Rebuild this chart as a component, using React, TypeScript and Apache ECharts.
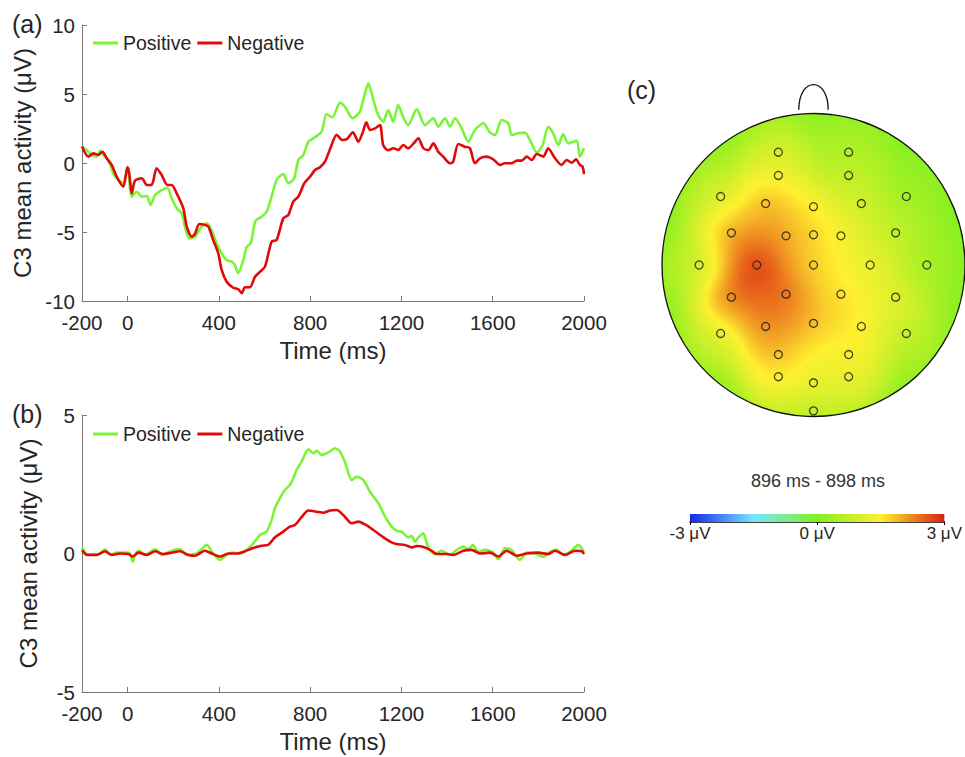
import React, { useEffect, useRef } from "react";
import * as echarts from "echarts";

const FONT = "'Liberation Sans', Arial, Helvetica, sans-serif";
const TEXT = "#262626";

const seriesNames = ["Positive", "Negative"];
const lineColors = ["#7af535", "#e00a0a"];
const timeTicks = [-200, 0, 400, 800, 1200, 1600, 2000];

// Panel (a)
const aPosT = [-200, -180, -158, -136, -121, -107, -85, -63, -41, -19, 0, 18, 40, 62, 84, 101, 120, 149, 174, 193, 215, 237, 251, 270, 295, 324, 346, 368, 390, 412, 434, 456, 470, 484, 507, 522, 540, 560, 587, 609, 631, 653, 682, 704, 730, 748, 770, 792, 821, 850, 872, 897, 931, 952, 986, 1018, 1036, 1055, 1077, 1098, 1120, 1142, 1164, 1186, 1208, 1230, 1267, 1303, 1340, 1361, 1391, 1413, 1435, 1464, 1493, 1522, 1559, 1588, 1610, 1639, 1668, 1683, 1712, 1741, 1763, 1793, 1819, 1843, 1865, 1887, 1909, 1931, 1968, 1982, 2000];
const aPosV = [1.18, 0.94, 0.58, 0.46, 0.9, 0.58, 0.22, -0.75, -1.23, -1.47, -0.3, -2.44, -2.08, -2.44, -2.39, -3.04, -2.32, -1.96, -1.79, -2.56, -3.28, -3.65, -4.61, -5.46, -5.34, -4.61, -4.37, -4.86, -5.82, -6.54, -7.03, -7.15, -7.39, -7.97, -7.03, -6.07, -5.8, -4.2, -3.89, -3.53, -2.44, -1.23, -0.8, -1.47, -1.11, 0.22, 0.58, 1.54, 1.86, 2.27, 3.55, 3.31, 4.37, 4.08, 3.24, 3.72, 4.8, 5.78, 4.57, 3.48, 2.99, 3.84, 2.99, 4.2, 3.3, 2.75, 3.89, 2.75, 3.24, 2.63, 3.24, 2.63, 3.24, 2.51, 1.54, 2.39, 2.88, 2.2, 2.03, 3.12, 2.88, 2.03, 2.15, 2.2, 1.67, 0.75, 1.3, 2.63, 2.15, 1.3, 2.1, 1.43, 1.62, 0.46, 1.07];
const aNegT = [-200, -172, -150, -129, -110, -92, -70, -48, -19, -1, 7, 18, 32, 62, 84, 105, 127, 149, 174, 193, 215, 244, 259, 281, 295, 314, 339, 354, 375, 397, 412, 434, 463, 485, 500, 514, 536, 558, 580, 602, 631, 653, 682, 704, 726, 748, 774, 799, 821, 843, 865, 891, 916, 940, 962, 987, 1011, 1030, 1046, 1062, 1084, 1106, 1120, 1142, 1164, 1186, 1208, 1230, 1255, 1274, 1296, 1318, 1340, 1361, 1383, 1413, 1427, 1449, 1478, 1500, 1522, 1544, 1573, 1602, 1632, 1654, 1683, 1705, 1727, 1749, 1771, 1793, 1822, 1843, 1873, 1902, 1924, 1946, 1965, 1982, 1994, 2000];
const aNegV = [1.2, 0.46, 0.7, 0.58, 0.82, 0.34, -0.14, -0.99, -1.72, -0.31, -0.75, -2.2, -1.28, -1.11, -1.59, -1.59, -0.38, -0.87, -1.59, -1.59, -2.2, -3.28, -4.61, -5.34, -5.14, -4.42, -4.49, -4.61, -5.58, -6.54, -7.75, -8.6, -9.04, -9.15, -9.44, -9.0, -9.0, -8.24, -7.88, -7.51, -5.7, -5.58, -4.01, -3.77, -2.8, -2.44, -1.47, -1.0, -0.51, -0.3, 0.1, 1.18, 2.05, 1.67, 1.75, 2.23, 1.54, 2.2, 2.95, 2.39, 2.51, 2.75, 1.3, 0.92, 1.07, 0.94, 1.3, 1.07, 1.45, 1.79, 1.07, 0.94, 1.43, 0.82, 0.46, -0.02, 0.1, 1.38, 1.18, 1.07, -0.02, 0.34, 0.46, 0.27, -0.14, -0.02, -0.02, 0.17, 0.17, 0.46, 0.22, 0.65, 0.46, 1.07, 0.34, -0.14, 0.22, 0.02, 0.27, -0.14, -0.27, -0.8];

// Panel (b)
const bPosT = [-200, -180, -150, -121, -99, -77, -48, -12, 10, 22, 32, 51, 76, 120, 149, 193, 229, 259, 295, 324, 346, 375, 405, 434, 463, 492, 522, 551, 580, 609, 631, 645, 667, 689, 711, 726, 740, 762, 792, 814, 829, 850, 879, 909, 931, 952, 982, 1004, 1033, 1062, 1099, 1128, 1157, 1179, 1201, 1230, 1245, 1259, 1274, 1296, 1311, 1325, 1347, 1376, 1413, 1442, 1471, 1493, 1512, 1537, 1566, 1602, 1624, 1654, 1683, 1719, 1749, 1785, 1822, 1851, 1880, 1909, 1939, 1975, 2000];
const bPosV = [0.22, -0.02, -0.05, 0, 0.15, -0.05, 0.03, 0.03, 0, -0.3, -0.05, 0.1, -0.05, 0.15, -0.05, 0.1, 0.15, -0.05, -0.02, 0.15, 0.31, 0, -0.23, -0.05, 0.03, 0, 0.13, 0.37, 0.67, 0.79, 1.21, 1.63, 1.99, 2.29, 2.47, 2.71, 3.01, 3.31, 3.76, 3.62, 3.71, 3.56, 3.64, 3.8, 3.67, 3.31, 2.65, 2.77, 2.65, 2.23, 1.81, 1.33, 0.97, 0.82, 0.79, 0.58, 0.63, 0.43, 0.58, 0.73, 0.37, 0.13, -0.02, 0.1, -0.05, 0.13, 0.25, 0.15, 0.31, 0.06, 0.13, 0.03, -0.21, 0.19, 0.13, -0.23, 0.03, 0, -0.12, 0.06, 0.13, -0.05, 0.06, 0.31, 0.06];
const bNegT = [-200, -177, -136, -99, -70, -34, 3, 22, 47, 84, 120, 156, 193, 229, 266, 295, 339, 368, 405, 441, 478, 514, 551, 587, 616, 645, 682, 711, 733, 762, 792, 829, 858, 887, 916, 945, 982, 1011, 1040, 1077, 1113, 1150, 1179, 1215, 1245, 1267, 1303, 1332, 1354, 1398, 1427, 1471, 1507, 1544, 1588, 1624, 1661, 1705, 1749, 1800, 1843, 1873, 1917, 1961, 1990, 2000];
const bNegV = [0.13, -0.05, -0.05, 0.08, -0.05, 0, -0.02, -0.11, 0.03, -0.05, 0.08, -0.02, 0.03, 0.08, -0.05, -0.08, 0.1, 0, -0.11, 0, 0, 0.08, 0.2, 0.28, 0.31, 0.58, 0.79, 0.97, 1.03, 1.31, 1.55, 1.51, 1.47, 1.55, 1.57, 1.39, 1.09, 1.15, 1.05, 0.85, 0.63, 0.43, 0.34, 0.31, 0.22, 0.27, 0.22, 0.1, -0.02, -0.02, -0.05, 0.1, 0.13, 0, 0.03, -0.11, 0.1, -0.08, 0, 0.03, -0.02, 0.1, -0.05, 0.1, 0.08, -0.02];

// Panel (c): electrode layout (unit head radius) and amplitudes (µV) at 896-898 ms
const elecX = [-0.232, 0.232, -0.232, 0.232, -0.613, 0.613, -0.316, 0, 0.316, -0.542, -0.181, 0, 0.181, 0.542, -0.755, -0.374, 0, 0.374, 0.748, -0.542, -0.181, 0.181, 0.542, -0.613, -0.316, 0, 0.316, 0.613, -0.232, 0.232, -0.232, 0, 0.232, 0];
const elecY = [0.723, 0.723, 0.574, 0.574, 0.439, 0.439, 0.394, 0.374, 0.394, 0.206, 0.187, 0.194, 0.187, 0.206, 0, 0, 0, 0, 0, -0.206, -0.187, -0.187, -0.206, -0.439, -0.394, -0.374, -0.394, -0.439, -0.574, -0.574, -0.716, -0.755, -0.716, -0.935];
const elecVal = [1.0, 0.6, 1.7, 0.9, 1.1, 0.4, 2.5, 1.7, 1.2, 2.7, 2.6, 1.9, 1.6, 1.0, 1.0, 3.7, 2.0, 1.6, 0.5, 3.2, 3.1, 2.0, 1.5, 1.2, 2.9, 2.3, 1.9, 0.9, 2.2, 1.7, 1.7, 1.7, 1.4, 0.6];
const colorbarTicks = [-3, 0, 3];
const colormap = ["#1428f0", "#78e6ff", "#80f020", "#fff030", "#dc1e10"];
const topoTitle = "896 ms - 898 ms";

const GRID_N = 96;
const SIGMA = 0.14;
const BASE_W = 0.45;

function fieldAt(x: number, y: number) {
  let sw = BASE_W;
  let sv = 0;
  for (let k = 0; k < elecX.length; k++) {
    const dx = x - elecX[k];
    const dy = y - elecY[k];
    const w = Math.exp(-(dx * dx + dy * dy) / (2 * SIGMA * SIGMA));
    sw += w;
    sv += w * elecVal[k];
  }
  return sv / sw;
}

function buildHeat() {
  const step = 2 / GRID_N;
  const cells: number[][] = [];
  for (let i = 0; i < GRID_N; i++) {
    for (let j = 0; j < GRID_N; j++) {
      const x = -1 + step * (i + 0.5);
      const y = -1 + step * (j + 0.5);
      if (x * x + y * y <= (1 + step) * (1 + step)) cells.push([x, y, fieldAt(x, y)]);
    }
  }
  return { cells, step };
}

function pairs(t: number[], v: number[]) {
  return t.map((x, i) => [x, v[i]]);
}

export default function App() {
  const ref = useRef<HTMLDivElement>(null);
  useEffect(() => {
    if (!ref.current) return;
    const chart = echarts.init(ref.current, undefined, { renderer: "svg" });
    const { cells, step } = buildHeat();

    const timeAxis = (gridIndex: number) => ({
      gridIndex,
      type: "value",
      min: -200,
      max: 2000,
      interval: 200,
      name: "Time (ms)",
      nameLocation: "middle",
      nameGap: 37,
      nameTextStyle: { fontSize: 24, color: TEXT, fontFamily: FONT },
      axisLine: { show: true, onZero: false, lineStyle: { color: "#7a7a7a", width: 1 } },
      axisTick: { show: true, inside: true, length: 5, customValues: timeTicks, lineStyle: { color: "#7a7a7a" } },
      axisLabel: { customValues: timeTicks, fontSize: 20.5, lineHeight: 20, color: TEXT, fontFamily: FONT, margin: 11, formatter: (v: number) => String(v) },
      splitLine: { show: false },
    });
    const valueAxis = (gridIndex: number, lim: number) => ({
      gridIndex,
      type: "value",
      min: -lim,
      max: lim,
      interval: 5,
      name: "C3 mean activity (μV)",
      nameLocation: "middle",
      nameGap: 42,
      nameTextStyle: { fontSize: 24, color: TEXT, fontFamily: FONT },
      axisLine: { show: true, onZero: false, lineStyle: { color: "#7a7a7a", width: 1 } },
      axisTick: { show: true, inside: true, length: 5, lineStyle: { color: "#7a7a7a" } },
      axisLabel: { fontSize: 20.5, lineHeight: 18, color: TEXT, fontFamily: FONT, margin: 7, formatter: (v: number) => String(v) },
      splitLine: { show: false },
    });
    const lineSeries = (name: string, idx: number, axis: number, data: number[][]) => ({
      type: "line",
      name,
      xAxisIndex: axis,
      yAxisIndex: axis,
      data,
      symbol: "none",
      smooth: 0.25,
      lineStyle: { color: lineColors[idx], width: 2.6 },
      itemStyle: { color: lineColors[idx] },
    });
    const legend = (top: number) => ({
      data: seriesNames,
      left: 93,
      top,
      padding: 0,
      icon: "rect",
      itemWidth: 25,
      itemHeight: 3,
      itemGap: 6,
      textStyle: { fontSize: 19.5, color: TEXT, fontFamily: FONT },
    });
    const label = (text: string, x: number, y: number) => ({
      type: "text",
      x,
      y,
      style: { text, fontSize: 25, fill: TEXT, fontFamily: FONT, align: "left", verticalAlign: "middle", textAlign: "left", textVerticalAlign: "middle" },
    });

    chart.setOption({
      animation: false,
      backgroundColor: "#ffffff",
      grid: [
        { left: 82, top: 25, width: 502, height: 276 },
        { left: 82, top: 415, width: 502, height: 277 },
        { left: 662, top: 109, width: 312, height: 312 },
        { left: 690, top: 514, width: 256, height: 8 },
      ],
      legend: [legend(33), legend(424)],
      xAxis: [
        timeAxis(0),
        timeAxis(1),
        { gridIndex: 2, type: "value", min: -1, max: 1, show: false },
        {
          gridIndex: 3,
          type: "value",
          min: -3,
          max: 3,
          interval: 3,
          axisLine: { show: true, onZero: false, lineStyle: { color: "#000", width: 1.5 } },
          axisTick: { show: true, inside: false, length: 3, customValues: colorbarTicks, lineStyle: { color: "#000" } },
          axisLabel: { customValues: colorbarTicks, showMinLabel: true, showMaxLabel: true, fontSize: 17, color: TEXT, fontFamily: FONT, margin: 3, formatter: (v: number) => `${v} μV` },
          splitLine: { show: false },
        },
      ],
      yAxis: [
        valueAxis(0, 10),
        valueAxis(1, 5),
        { gridIndex: 2, type: "value", min: -1, max: 1, show: false },
        { gridIndex: 3, type: "value", min: 0, max: 1, show: false },
      ],
      visualMap: {
        type: "continuous",
        show: false,
        min: -3,
        max: 3,
        dimension: 2,
        seriesIndex: 4,
        inRange: { color: colormap },
      },
      graphic: [
        label("(a)", 12, 24),
        label("(b)", 12, 414),
        label("(c)", 627, 90),
        {
          type: "text",
          x: 818,
          y: 481,
          style: { text: topoTitle, fontSize: 18, fill: "#333", fontFamily: FONT, align: "center", verticalAlign: "middle", textAlign: "center", textVerticalAlign: "middle" },
        },
      ],
      series: [
        lineSeries(seriesNames[0], 0, 0, pairs(aPosT, aPosV)),
        lineSeries(seriesNames[1], 1, 0, pairs(aNegT, aNegV)),
        lineSeries(seriesNames[0], 0, 1, pairs(bPosT, bPosV)),
        lineSeries(seriesNames[1], 1, 1, pairs(bNegT, bNegV)),
        {
          type: "custom",
          xAxisIndex: 2,
          yAxisIndex: 2,
          clip: false,
          z: 1,
          dimensions: ["x", "y", "v"],
          encode: { x: 0, y: 1 },
          data: cells,
          renderItem: (params: any, api: any) => {
            const p = api.coord([api.value(0) - step / 2, api.value(1) + step / 2]);
            const s = api.size([step, step]);
            return {
              type: "rect",
              shape: { x: p[0], y: p[1], width: s[0] + 0.7, height: s[1] + 0.7 },
              style: { fill: api.visual("color") },
            };
          },
        },
        {
          type: "custom",
          xAxisIndex: 2,
          yAxisIndex: 2,
          clip: false,
          z: 4,
          data: [[0, 0]],
          renderItem: (params: any, api: any) => {
            const c = api.coord([0, 0]);
            const r = api.size([1, 1])[0];
            const nl = api.coord([-0.097, 0.995]);
            const nr = api.coord([0.097, 0.995]);
            const cl = api.coord([-0.097, 1.21]);
            const cr = api.coord([0.097, 1.21]);
            return {
              type: "group",
              children: [
                { type: "ring", shape: { cx: c[0], cy: c[1], r: r + 14, r0: r }, style: { fill: "#ffffff" } },
                { type: "circle", shape: { cx: c[0], cy: c[1], r }, style: { fill: "none", stroke: "#111", lineWidth: 1.3 } },
                {
                  type: "bezierCurve",
                  shape: { x1: nl[0], y1: nl[1], cpx1: cl[0], cpy1: cl[1], cpx2: cr[0], cpy2: cr[1], x2: nr[0], y2: nr[1] },
                  style: { fill: "none", stroke: "#111", lineWidth: 1.3 },
                },
              ],
            };
          },
        },
        {
          type: "scatter",
          xAxisIndex: 2,
          yAxisIndex: 2,
          z: 5,
          symbol: "circle",
          symbolSize: 8,
          data: elecX.map((x, i) => [x, elecY[i]]),
          itemStyle: { color: "rgba(0,0,0,0)", borderColor: "#1a1a1a", borderWidth: 1.3 },
        },
        {
          type: "custom",
          xAxisIndex: 3,
          yAxisIndex: 3,
          clip: false,
          z: 2,
          data: [[-3, 0]],
          renderItem: (params: any, api: any) => {
            const lt = api.coord([-3, 1]);
            const rb = api.coord([3, 0]);
            const stops = colormap.map((c, i) => ({ offset: i / (colormap.length - 1), color: c }));
            return {
              type: "rect",
              shape: { x: lt[0], y: lt[1], width: rb[0] - lt[0], height: rb[1] - lt[1] },
              style: { fill: new echarts.graphic.LinearGradient(0, 0, 1, 0, stops) },
            };
          },
        },
      ],
    });
    return () => chart.dispose();
  }, []);
  return (
    <div
      ref={ref}
      style={{ position: "fixed", left: 0, top: 0, width: 965, height: 757, background: "#fff" }}
    />
  );
}
